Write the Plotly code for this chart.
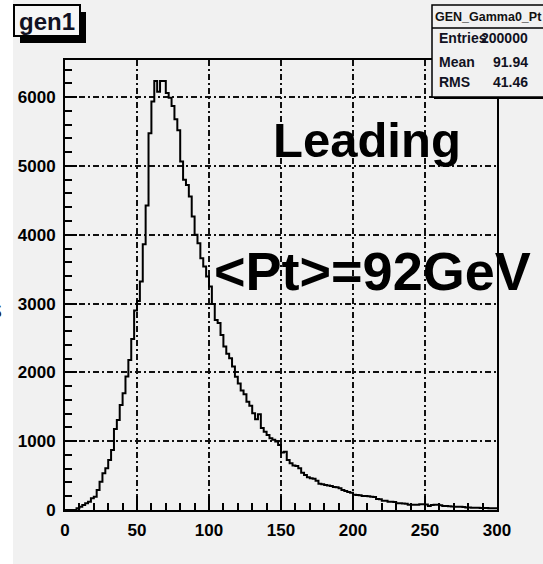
import plotly.graph_objects as go

# Figure geometry (pixels)
W, H = 543, 564
L, R, T, B = 65, 46, 60, 54
PW, PH = W - L - R, H - T - B

FONT = "Liberation Sans, Arial, Helvetica, sans-serif"
BG = "#f1f1f1"

# Histogram GEN_Gamma0_Pt: 150 bins of width 2 GeV over [0, 300]
bin_width = 2
pt_low_edges = list(range(0, 300, bin_width))
counts = [
    0, 0, 0, 0, 24, 48, 73, 97, 121, 170,
    194, 291, 412, 533, 606, 727, 872, 1178, 1309, 1527,
    1696, 1939, 2181, 2486, 2900, 3039, 3320, 3863, 4425, 5477,
    5937, 6233, 6080, 6233, 6233, 6060, 5990, 5870, 5680, 5520,
    5064, 4798, 4725, 4555, 4264, 3999, 3877, 3659, 3538, 3393,
    3247, 2995, 2762, 2716, 2545, 2375, 2270, 2207, 2084, 1938,
    1838, 1735, 1684, 1575, 1515, 1405, 1320, 1390, 1190, 1139,
    1091, 1042, 1020, 994, 945, 835, 845, 727, 680, 645,
    640, 606, 543, 509, 475, 460, 455, 426, 380, 375,
    363, 355, 349, 335, 330, 315, 291, 276, 260, 250,
    220, 218, 215, 205, 204, 200, 194, 190, 160, 155,
    136, 136, 121, 121, 118, 97, 97, 95, 92, 78,
    78, 76, 78, 82, 82, 80, 58, 73, 75, 78,
    70, 58, 58, 56, 50, 48, 48, 46, 45, 36,
    35, 34, 32, 34, 30, 30, 28, 26, 26, 24,
]

# Axis ticks
x_ticks = [0, 50, 100, 150, 200, 250, 300]
y_ticks = [0, 1000, 2000, 3000, 4000, 5000, 6000]

# Text content
hist_title = "gen1"
stats_name = "GEN_Gamma0_Pt"
stats_labels = ["Entries", "Mean", "RMS"]
stats_values = ["200000", "91.94", "41.46"]
note_top = "Leading"
note_mean = "&lt;Pt&gt;=92GeV"
edge_fragment = "s"


def fx(px):
    return (px - L) / PW


def fy(py):
    return (H - B - py) / PH


edges = pt_low_edges + [pt_low_edges[-1] + bin_width]
fig = go.Figure(
    go.Scatter(
        x=edges,
        y=counts + [counts[-1]],
        mode="lines",
        line=dict(color="black", width=2, shape="hv"),
        hoverinfo="skip",
    )
)

grid_dash = "6px,3px,2px,3px"
axis_common = dict(
    showline=True, linecolor="black", linewidth=2, mirror=True,
    ticks="inside", tickcolor="black", tickwidth=1.5,
    showgrid=True, gridcolor="#111111", gridwidth=1.6, griddash=grid_dash,
    zeroline=False,
    tickfont=dict(family=FONT, size=17, color="black", weight="bold"),
)

fig.update_layout(
    width=W, height=H, autosize=False,
    margin=dict(l=L, r=R, t=T, b=B, pad=0),
    paper_bgcolor=BG, plot_bgcolor=BG,
    showlegend=False,
    xaxis=dict(
        range=[0, 300], tickvals=x_ticks, ticklen=14,
        minor=dict(dtick=10, tick0=0, ticklen=7, ticks="inside",
                   tickcolor="black", tickwidth=1.5, showgrid=False),
        ticklabelstandoff=4,
        **axis_common,
    ),
    yaxis=dict(
        range=[0, 6540], tickvals=y_ticks, ticklen=12,
        minor=dict(dtick=200, tick0=0, ticklen=7, ticks="inside",
                   tickcolor="black", tickwidth=1.5, showgrid=False),
        ticklabelstandoff=4,
        **axis_common,
    ),
)

shapes = [
    # white strip along the left border
    dict(type="rect", xref="paper", yref="paper", layer="below",
         x0=fx(-5), x1=fx(13), y0=fy(-5), y1=fy(H + 5),
         fillcolor="white", line=dict(width=0)),
    # title box with its drop shadow
    dict(type="rect", xref="paper", yref="paper", layer="above",
         x0=fx(20), x1=fx(86), y0=fy(43), y1=fy(12),
         fillcolor="black", line=dict(width=0)),
    dict(type="rect", xref="paper", yref="paper", layer="above",
         x0=fx(14), x1=fx(80), y0=fy(36), y1=fy(5),
         fillcolor="#f6f6f6", line=dict(color="black", width=2)),
    # statistics box
    dict(type="rect", xref="paper", yref="paper", layer="above",
         x0=fx(434), x1=fx(570), y0=fy(99), y1=fy(7),
         fillcolor="black", line=dict(width=0)),
    dict(type="rect", xref="paper", yref="paper", layer="above",
         x0=fx(432), x1=fx(565), y0=fy(97), y1=fy(5),
         fillcolor=BG, line=dict(color="black", width=1.5)),
    dict(type="line", xref="paper", yref="paper", layer="above",
         x0=fx(432), x1=fx(565), y0=fy(28), y1=fy(28),
         line=dict(color="black", width=1.5)),
]
fig.update_layout(shapes=shapes)

ann = []
ann.append(dict(text=hist_title, xref="paper", yref="paper",
                x=fx(17), y=fy(21), xanchor="left", yanchor="middle",
                showarrow=False,
                font=dict(family=FONT, size=24, color="#111122", weight="bold")))
ann.append(dict(text=stats_name, xref="paper", yref="paper",
                x=fx(433), y=fy(17), xanchor="left", yanchor="middle",
                showarrow=False,
                font=dict(family=FONT, size=12.5, color="#111111", weight="bold")))
for i, (lab, val) in enumerate(zip(stats_labels, stats_values)):
    yy = [38, 62, 82][i]
    ann.append(dict(text=lab, xref="paper", yref="paper",
                    x=fx(437), y=fy(yy), xanchor="left", yanchor="middle",
                    showarrow=False,
                    font=dict(family=FONT, size=14, color="#111122", weight="bold")))
    ann.append(dict(text=val, xref="paper", yref="paper",
                    x=fx(530), y=fy(yy), xanchor="right", yanchor="middle",
                    showarrow=False,
                    font=dict(family=FONT, size=14, color="#111122", weight="bold")))
ann.append(dict(text=note_top, xref="paper", yref="paper",
                x=fx(271), y=fy(140), xanchor="left", yanchor="middle",
                showarrow=False,
                font=dict(family=FONT, size=49, color="black", weight="bold")))
ann.append(dict(text=note_mean, xref="paper", yref="paper",
                x=fx(212), y=fy(271), xanchor="left", yanchor="middle",
                showarrow=False,
                font=dict(family=FONT, size=54, color="black", weight="bold")))
# partly visible character at the left border
ann.append(dict(text=edge_fragment, xref="paper", yref="paper",
                x=fx(4), y=fy(309), xanchor="right", yanchor="middle",
                showarrow=False,
                font=dict(family=FONT, size=26, color="#222222")))
fig.update_layout(annotations=ann)

fig.write_html("out.html")
